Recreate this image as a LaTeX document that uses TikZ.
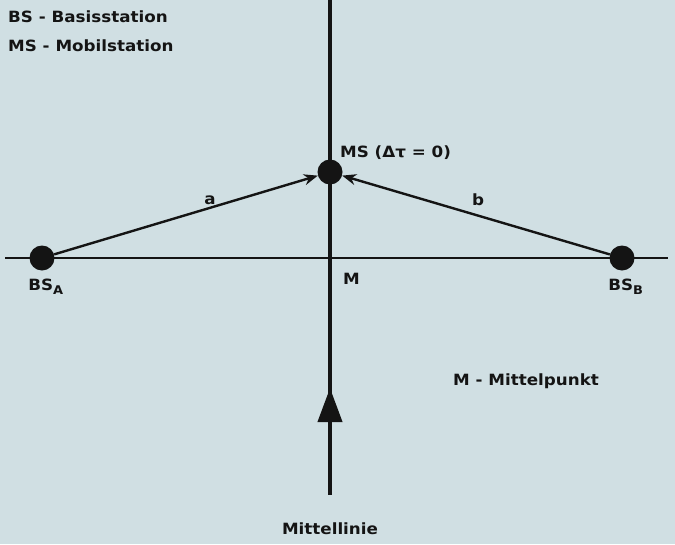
\documentclass[tikz,border=0pt]{standalone}
\usepackage{fontspec}
\setmainfont{DejaVu Sans}[FakeStretch=1.08]
\usetikzlibrary{arrows.meta}
\definecolor{bg}{HTML}{D0DFE3}
\definecolor{ink}{HTML}{141414}
\begin{document}
\begin{tikzpicture}[x=1pt,y=-1pt,
  lbl/.style={font=\bfseries\fontsize{15.5}{18}\selectfont, text=ink, inner sep=0pt},
  station/.style={circle, fill=ink, minimum size=25pt, inner sep=0pt},
  link/.style={ink, line width=2.4pt, -{Stealth[length=14pt,width=11pt]}, shorten >=0pt}]
\fill[bg] (0,0) rectangle (675,544);
\useasboundingbox (0,0) rectangle (675,544);
% axes
\coordinate (vtop) at (330,0);
\coordinate (vbot) at (330,495);
\coordinate (hl) at (5,258);
\coordinate (hr) at (668,258);
\coordinate (arr) at (330,388);
\draw[ink, line width=4pt] (vtop) -- (vbot);
\draw[ink, line width=2.4pt] (hl) -- (hr);
\draw[ink, line width=4pt, -{Triangle[length=34pt,width=24pt]}] (330,430) -- (arr);
% stations
\node[station] (bsa) at (42,258) {};
\node[station] (bsb) at (622,258) {};
\node[station] (ms) at (330,172) {};
\draw[link] (bsa) -- (ms);
\draw[link] (bsb) -- (ms);
% labels
\node[lbl] (la) at (210,200) {a};
\node[lbl] (lb) at (478,200) {b};
\node[lbl, anchor=west] (msl) at (340,153) {MS (Δτ = 0)};
\node[lbl, anchor=west] (ml) at (343,279) {M};
\node[lbl] (bsal) at (46,287) {BS\textsubscript{\fontsize{12}{14}\selectfont A}};
\node[lbl] (bsbl) at (626,287) {BS\textsubscript{\fontsize{12}{14}\selectfont B}};
\node[lbl, anchor=west] (mp) at (453,381) {M - Mittelpunkt};
\node[lbl] (mlin) at (330,529) {Mittellinie};
\node[lbl, anchor=west] (l1) at (8,17) {BS - Basisstation};
\node[lbl, anchor=west] (l2) at (8,46) {MS - Mobilstation};
\end{tikzpicture}
\end{document}
